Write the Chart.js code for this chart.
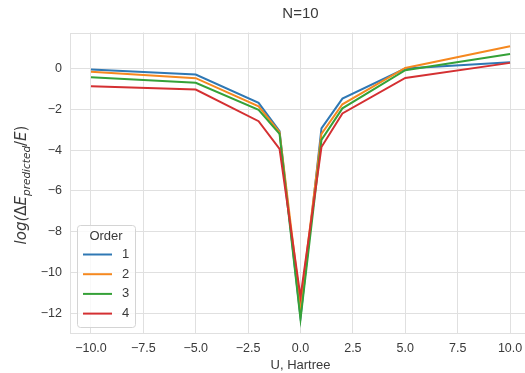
<!DOCTYPE html>
<html>
<head>
<meta charset="utf-8">
<script src="https://cdn.jsdelivr.net/npm/chart.js@4.4.0/dist/chart.umd.min.js"></script>
<style>
  html, body { margin: 0; padding: 0; overflow: hidden; background: #fff; }
  #wrap { width: 545px; height: 373px; }
</style>
</head>
<body>
<div id="wrap"><canvas id="chart" width="545" height="373"></canvas></div>
<script>
// values
var u_values = [-10, -5, -2, -1, 0, 1, 2, 5, 10];
var order_1 = [-0.05, -0.29, -1.68, -3.07, -12.2, -2.93, -1.47, 0.0, 0.31];
var order_2 = [-0.16, -0.47, -1.85, -3.12, -11.6, -3.2, -1.75, 0.03, 1.1];
var order_3 = [-0.42, -0.70, -2.02, -3.2, -12.3, -3.5, -1.95, -0.08, 0.72];
var order_4 = [-0.87, -1.03, -2.58, -3.94, -11.2, -3.85, -2.2, -0.46, 0.28];
var order_labels = ['1', '2', '3', '4'];
var x_ticks = [-10, -7.5, -5, -2.5, 0, 2.5, 5, 7.5, 10];
var y_ticks = [-12, -10, -8, -6, -4, -2, 0];

var colors = ['#2f78b4', '#f5881f', '#35a138', '#d43032'];
var gridColor = '#e0e0e0';
var textColor = '#3a3a3a';
var sansFont = '"Liberation Sans", Arial, sans-serif';

function minus(s) { return String(s).replace('-', '\u2212'); }

var series = [order_1, order_2, order_3, order_4];
var datasets = series.map(function (vals, i) {
  return {
    label: order_labels[i],
    data: u_values.map(function (x, j) { return { x: x, y: vals[j] }; }),
    borderColor: colors[i],
    backgroundColor: colors[i],
    borderWidth: 2,
    pointRadius: 0,
    tension: 0,
    order: 4 - i
  };
});

// y label with subscript, drawn rotated
function drawYLabel(ctx, cx, cy, size) {
  var parts = [
    { t: 'log(', it: true, s: 1, dy: 0 },
    { t: '\u0394', it: false, s: 1, dy: 0 },
    { t: 'E', it: true, s: 1, dy: 0 },
    { t: 'predicted', it: true, s: 0.7, dy: 0.28 },
    { t: '/', it: false, s: 1, dy: 0 },
    { t: 'E', it: true, s: 1, dy: 0 },
    { t: ')', it: false, s: 1, dy: 0 }
  ];
  function font(p) {
    return (p.it ? 'italic ' : '') + (size * p.s) + 'px "DejaVu Sans", sans-serif';
  }
  var total = 0;
  parts.forEach(function (p) { ctx.font = font(p); p.w = ctx.measureText(p.t).width; total += p.w; });
  ctx.save();
  ctx.translate(cx, cy);
  ctx.rotate(-Math.PI / 2);
  ctx.fillStyle = textColor;
  ctx.textBaseline = 'alphabetic';
  ctx.textAlign = 'left';
  var x = -total / 2;
  parts.forEach(function (p) {
    ctx.font = font(p);
    ctx.fillText(p.t, x, p.dy * size);
    x += p.w;
  });
  ctx.restore();
}

var decorPlugin = {
  id: 'decor',
  beforeDatasetsDraw: function (chart) {
    var ctx = chart.ctx, a = chart.chartArea;
    ctx.save();
    ctx.strokeStyle = gridColor;
    ctx.lineWidth = 1;
    ctx.strokeRect(Math.round(a.left) + 0.5, Math.round(a.top) + 0.5,
      Math.round(a.right - a.left) - 1, Math.round(a.bottom - a.top) - 1);
    ctx.restore();
  },
  afterDraw: function (chart) {
    var ctx = chart.ctx, a = chart.chartArea;
    var mid = (a.left + a.right) / 2;
    ctx.save();
    ctx.fillStyle = textColor;
    ctx.textAlign = 'center';
    ctx.textBaseline = 'middle';
    ctx.font = '15px ' + sansFont;
    ctx.fillText('N=10', mid, 14);
    ctx.font = '13px ' + sansFont;
    ctx.fillText('U, Hartree', mid, 365);
    ctx.restore();

    drawYLabel(ctx, 26, 185, 15);

    // legend box
    var lx = 77, ly = 225, lw = 58, lh = 102;
    ctx.save();
    ctx.beginPath();
    ctx.roundRect(lx + 0.5, ly + 0.5, lw, lh, 3);
    ctx.fillStyle = 'rgba(255,255,255,0.8)';
    ctx.fill();
    ctx.strokeStyle = '#d4d4d4';
    ctx.lineWidth = 1;
    ctx.stroke();
    ctx.fillStyle = textColor;
    ctx.textAlign = 'center';
    ctx.textBaseline = 'middle';
    ctx.font = '13px ' + sansFont;
    ctx.fillText('Order', 106, 236);
    chart.data.datasets.forEach(function (ds, i) {
      var y = 254.5 + i * 19.7;
      ctx.strokeStyle = ds.borderColor;
      ctx.lineWidth = 2;
      ctx.beginPath();
      ctx.moveTo(83, y);
      ctx.lineTo(112, y);
      ctx.stroke();
      ctx.fillStyle = textColor;
      ctx.fillText(ds.label, 125.5, y);
    });
    ctx.restore();
  }
};

var ctx = document.getElementById('chart').getContext('2d');
var chart = new Chart(ctx, {
  type: 'line',
  data: { datasets: datasets },
  options: {
    responsive: false,
    animation: false,
    devicePixelRatio: 1,
    layout: { padding: { left: 0, right: 14, top: 32.5, bottom: 0 } },
    plugins: {
      legend: { display: false },
      title: { display: false },
      tooltip: { enabled: false }
    },
    scales: {
      x: {
        type: 'linear',
        min: -11,
        max: 11,
        afterBuildTicks: function (s) { s.ticks = x_ticks.map(function (v) { return { value: v }; }); },
        afterFit: function (s) { s.height = 40; },
        grid: { color: gridColor, lineWidth: 1, drawTicks: false },
        border: { display: false },
        ticks: {
          padding: 8,
          color: textColor,
          font: { family: sansFont, size: 12.5 },
          maxRotation: 0,
          callback: function (v) { return minus(v.toFixed(1)); }
        }
      },
      y: {
        type: 'linear',
        min: -12.97,
        max: 1.77,
        afterBuildTicks: function (s) { s.ticks = y_ticks.map(function (v) { return { value: v }; }); },
        afterFit: function (s) { s.width = 70; },
        grid: { color: gridColor, lineWidth: 1, drawTicks: false },
        border: { display: false },
        ticks: {
          padding: 8,
          color: textColor,
          font: { family: sansFont, size: 12.5 },
          callback: function (v) { return minus(v); }
        }
      }
    }
  },
  plugins: [decorPlugin]
});
</script>
</body>
</html>
